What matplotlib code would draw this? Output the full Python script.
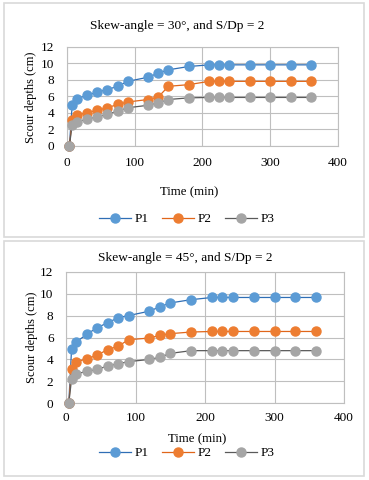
import matplotlib
matplotlib.use('Agg')
import matplotlib.pyplot as plt
from matplotlib.patches import Rectangle
from matplotlib.lines import Line2D

# time axis shared by both tests (min)
time_min = [4, 8, 15, 30, 45, 60, 75, 90, 120, 135, 150, 180, 210, 225, 240, 270, 300, 330, 360]

# skew angle 30 deg, S/Dp = 2
p1_30 = [0, 4.9, 5.7, 6.1, 6.5, 6.8, 7.2, 7.8, 8.3, 8.8, 9.2, 9.6, 9.8, 9.8, 9.8, 9.8, 9.8, 9.8, 9.8]
p2_30 = [0, 3.1, 3.7, 4.0, 4.3, 4.6, 5.0, 5.3, 5.6, 5.9, 7.2, 7.4, 7.8, 7.8, 7.8, 7.8, 7.8, 7.8, 7.8]
p3_30 = [0, 2.5, 2.9, 3.2, 3.5, 3.8, 4.2, 4.6, 4.9, 5.2, 5.6, 5.8, 5.85, 5.85, 5.85, 5.85, 5.85, 5.85, 5.85]

# skew angle 45 deg, S/Dp = 2
p1_45 = [0, 4.95, 5.6, 6.3, 6.9, 7.35, 7.8, 8.0, 8.4, 8.8, 9.15, 9.45, 9.65, 9.65, 9.65, 9.65, 9.65, 9.65, 9.65]
p2_45 = [0, 3.1, 3.8, 4.05, 4.4, 4.9, 5.2, 5.8, 5.95, 6.2, 6.35, 6.5, 6.55, 6.55, 6.55, 6.55, 6.55, 6.55, 6.55]
p3_45 = [0, 2.2, 2.7, 2.9, 3.1, 3.4, 3.6, 3.8, 4.0, 4.2, 4.55, 4.8, 4.8, 4.8, 4.8, 4.8, 4.8, 4.8, 4.8]

series_names = ['P1', 'P2', 'P3']
marker_colors = ['#5B9BD5', '#ED7D31', '#A5A5A5']
line_colors = ['#2F6EB5', '#E0661A', '#5A5A5A']

plt.rcParams['font.family'] = ['Liberation Serif', 'DejaVu Serif']
plt.rcParams['font.size'] = 9

W, H = 369, 480
fig = plt.figure(figsize=(W / 100, H / 100), dpi=100)


def px_axes(left, top, right, bottom):
    return fig.add_axes([left / W, 1 - bottom / H, (right - left) / W, (bottom - top) / H])


def draw_panel(ax, data, title, box, title_xy, ylab_xy, xlab_xy, leg_xy, xpad):
    # outer grey frame of the chart
    x0, y0, x1, y1 = box
    fig.patches.append(Rectangle((x0 / W, 1 - y1 / H), (x1 - x0) / W, (y1 - y0) / H,
                                 transform=fig.transFigure, fill=False,
                                 edgecolor='#D9D9D9', linewidth=1.2))
    for vals, mc, lc in zip(data, marker_colors, line_colors):
        ax.plot(time_min, vals, color=lc, linewidth=0.9, marker='o', markersize=6.5,
                markerfacecolor=mc, markeredgecolor=mc, zorder=3, clip_on=False)
    ax.set_xlim(0, 400)
    ax.set_ylim(0, 12)
    ax.set_xticks(range(0, 401, 100))
    ax.set_yticks(range(0, 13, 2))
    ax.grid(True, color='#BFBFBF', linewidth=0.8)
    ax.set_axisbelow(True)
    for s in ax.spines.values():
        s.set_color('#BFBFBF')
        s.set_linewidth(0.8)
    ax.tick_params(length=0, labelsize=9.5, labelcolor='black')
    ax.tick_params(axis='y', pad=9)
    ax.tick_params(axis='x', pad=xpad)
    ax.patch.set_alpha(0)
    fig.text(title_xy[0] / W, 1 - title_xy[1] / H, title, ha='center', va='center', fontsize=9.6)
    fig.text(ylab_xy[0] / W, 1 - ylab_xy[1] / H, 'Scour depths (cm)', rotation=90,
             ha='center', va='center', fontsize=9)
    fig.text(xlab_xy[0] / W, 1 - xlab_xy[1] / H, 'Time (min)', ha='center', va='center', fontsize=9.3)
    handles = [Line2D([], [], color=lc, linewidth=0.9, marker='o', markersize=6.5,
                      markerfacecolor=mc, markeredgecolor=mc)
               for mc, lc in zip(marker_colors, line_colors)]
    fig.legend(handles, series_names, loc='center', ncol=3, frameon=False,
               bbox_to_anchor=(leg_xy[0] / W, 1 - leg_xy[1] / H), fontsize=9.5,
               handlelength=2.4, handletextpad=0.3, columnspacing=1.0)


ax1 = px_axes(66.7, 46.7, 338, 145.7)
draw_panel(ax1, [p1_30, p2_30, p3_30], 'Skew-angle = 30°, and S/Dp = 2',
           (4, 3, 364, 237), (176.7, 26), (31, 97), (189, 192), (187, 219), 8)

ax2 = px_axes(66, 271.7, 344, 403.3)
draw_panel(ax2, [p1_45, p2_45, p3_45], 'Skew-angle = 45°, and S/Dp = 2',
           (4, 241, 364, 476), (185, 258), (32, 337), (197, 439), (187, 453), 6.5)

fig.savefig('out.png', dpi=100)
plt.close(fig)
